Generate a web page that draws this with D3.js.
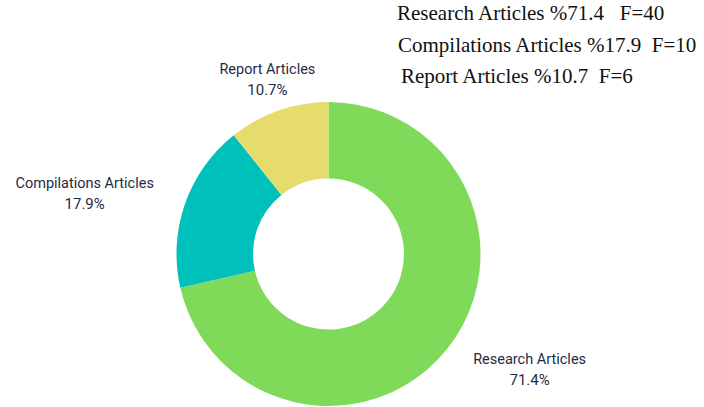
<!DOCTYPE html>
<html>
<head>
<meta charset="utf-8">
<script src="https://cdn.jsdelivr.net/npm/d3@7"></script>
<style>
  html, body { margin: 0; padding: 0; background: #fff; }
  svg { display: block; }
</style>
</head>
<body>
<figure id="donut" style="margin:0"></figure>
<script>
// chart data
const categories = ["Research Articles", "Compilations Articles", "Report Articles"];
const counts = [40, 10, 6];
const percentLabels = ["71.4%", "17.9%", "10.7%"];
const legendLines = [
  "Research Articles %71.4   F=40",
  "Compilations Articles %17.9  F=10",
  "Report Articles %10.7  F=6"
];
const colors = ["#80da5a", "#00c0bc", "#e5dc6d"];

const width = 704, height = 407;
const cx = 328.5, cy = 254;
const outerR = 152, innerR = 75.5, labelR = 185;

const svg = d3.select("figure#donut")
  .append("svg")
  .attr("width", width)
  .attr("height", height);

const g = svg.append("g")
  .attr("transform", "translate(" + cx + "," + cy + ")");

const pie = d3.pie().sort(null).value(d => d);
const arcs = pie(counts);

const arc = d3.arc().innerRadius(innerR).outerRadius(outerR);

g.selectAll("path")
  .data(arcs)
  .enter().append("path")
  .attr("d", arc)
  .attr("fill", (d, i) => colors[i]);

// outside labels at mid angle
const labels = g.selectAll("g.lbl")
  .data(arcs)
  .enter().append("g")
  .attr("class", "lbl")
  .attr("transform", d => {
    const a = (d.startAngle + d.endAngle) / 2;
    return "translate(" + (labelR * Math.sin(a)) + "," + (-labelR * Math.cos(a)) + ")";
  });

labels.each(function (d, i) {
  const a = (d.startAngle + d.endAngle) / 2;
  const s = Math.sin(a);
  const anchor = Math.abs(s) < 0.4 ? "middle" : (s > 0 ? "start" : "end");
  const t = d3.select(this).append("text")
    .attr("text-anchor", anchor)
    .attr("x", 0)
    .attr("y", -5)
    .style("font-family", "Roboto, sans-serif")
    .style("font-size", "14.5px")
    .style("fill", "#1f2b45")
    .text(categories[i]);
  const t2 = d3.select(this).append("text")
    .attr("text-anchor", "middle")
    .attr("y", 16)
    .style("font-family", "Roboto, sans-serif")
    .style("font-size", "15px")
    .style("fill", "#1f2b45")
    .text(percentLabels[i]);
  // center the percentage under the category label
  const bb = t.node().getBBox();
  t2.attr("x", bb.x + bb.width / 2);
});

// legend block, top right
const legendX = [397, 398, 401];
const legendY = [20, 52, 83];
svg.selectAll("text.legend")
  .data(legendLines)
  .enter().append("text")
  .attr("class", "legend")
  .attr("x", (d, i) => legendX[i])
  .attr("y", (d, i) => legendY[i])
  .style("font-family", "'Liberation Serif', 'Times New Roman', serif")
  .style("font-size", "21px")
  .style("fill", "#111")
  .style("white-space", "pre")
  .text(d => d);
</script>
</body>
</html>
